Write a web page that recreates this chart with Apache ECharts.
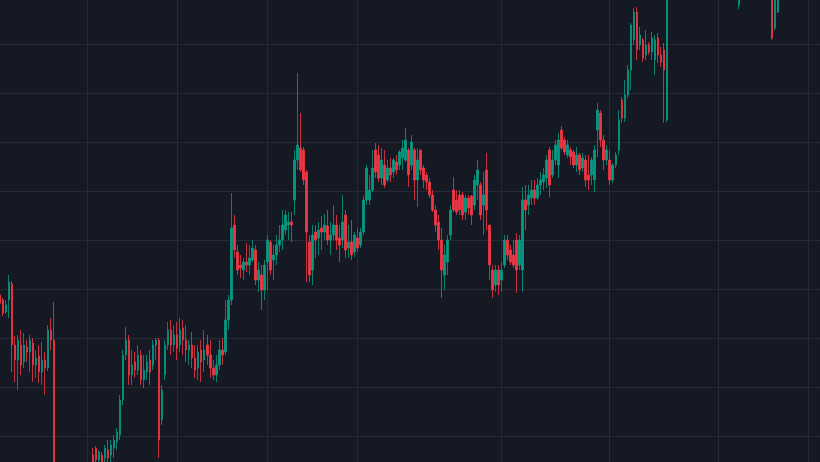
<!DOCTYPE html>
<html lang="en">
  <head>
    <meta charset="UTF-8">
    <title>Candles</title>
    <style>
      html, body { margin: 0; padding: 0; background: #151924; overflow: hidden; width: 820px; height: 462px; }
      #main { position: absolute; left: 0; top: -5px; width: 820px; height: 490px; }
    </style>
  </head>
  <body>
    <div id="main"></div>
  </body>
  <script src="https://cdn.jsdelivr.net/npm/echarts@6/dist/echarts.min.js"></script>
  <script type="text/javascript">
    // each bar: [open, close, low, high]
    var segA = [
      [167,159,156,170],[162,149,146,164],[150,157,148,162],[162,180,144,187],[178,117,90,181],
      [117,102,80,126],[102,122,72,127],[117,97,87,132],[100,117,94,129],[115,110,100,122],
      [110,122,90,127],[119,97,80,124],[97,104,84,112],[106,90,79,117],[90,102,77,120],
      [102,94,67,110],[94,132,91,137],[132,122,112,144],[122,-8,-38,160],
      [-10,-20,-35,-5],[-20,-15,-30,-8],[-15,-25,-40,-10],[-25,-30,-45,-15],[-30,-22,-40,-18],
      [-22,-28,-38,-12],[-28,-35,-50,-20],[-35,-25,-42,-20],[-25,-18,-30,-10],[-18,-22,-32,-8],
      [-22,-12,-28,-6],[-12,-5,-18,-4]
    ];
    var segB = [
      [7,-3,-8,14],[14,2,-6,16],[2,10,-8,12],[7,0,-6,10],[4,14,0,17],[12,4,-4,22],[7,17,0,22],
      [14,22,4,27],[20,30,12,34],[27,62,22,67],[62,107,57,112],[107,122,102,135],[122,87,77,127],
      [87,97,77,112],[100,92,84,110],[92,107,87,117],[107,82,77,112],[82,92,74,107],[90,100,82,107],
      [102,90,77,112],[97,117,92,122],[117,122,102,124],[122,22,4,124],[42,72,37,77],[87,117,82,122],
      [117,132,112,140],[132,117,107,142],[117,127,110,137],[127,114,102,140],[117,132,110,144],
      [134,122,107,142],[122,112,100,137],[112,117,97,122],[117,104,94,130],[104,92,84,117],
      [94,110,82,117],[112,100,80,122],[102,112,90,132],[117,107,97,127],[107,94,84,122],
      [94,87,82,102],[87,97,80,107],[97,112,92,122],[112,107,97,124],[110,142,107,162],[142,162,132,167]
    ];
    var segC = [
      [162,234,157,269],[237,212,204,247],[210,192,187,217],[197,194,184,207],[192,200,182,204],
      [200,197,190,219],[197,204,187,217],[202,214,200,222],[212,182,177,217],[182,192,170,200],
      [187,172,152,197],[172,197,162,202],[200,222,172,227],[220,192,187,222],[202,207,182,217],
      [207,217,197,227],[217,222,210,237],[222,237,212,252],[232,247,227,252],[237,240,222,250],
      [240,237,220,250],[262,302,247,312],[302,317,292,389],[314,292,290,349],[312,282,277,315],
      [290,230,180,292],[220,187,180,227],[192,227,177,237],[230,222,204,237],[224,232,207,240],
      [234,230,212,246],[230,237,222,248],[236,222,217,252],[222,227,207,240],[227,237,222,257],
      [237,222,212,247],[224,217,200,237],[222,240,214,267],[247,212,204,252],[214,220,204,237],
      [220,207,202,242],[210,227,205,230],[224,214,210,234],[217,230,214,234],[230,262,227,266],
      [262,294,257,297]
    ];
    var segD = [
      [262,272,257,287],[272,294,270,312],[312,290,284,319],[307,284,280,317],[284,302,277,314],
      [297,277,274,312],[282,294,280,302],[294,287,280,304],[290,302,284,304],[300,292,287,307],
      [297,310,292,312],[304,314,292,322],[302,322,300,334],[312,287,275,314],[297,320,292,327],
      [312,282,262,314],[282,302,255,314],[312,292,287,312],[294,282,274,297],[287,280,272,290],
      [280,267,264,284],[267,252,250,272],[252,237,230,257],[240,222,212,247],[222,192,164,234],
      [187,207,172,217],[200,222,187,227],[227,252,222,257],[272,252,250,285],[262,250,247,272],
      [267,252,247,272],[267,247,242,270],[250,264,242,267],[264,254,247,267],[266,247,237,267],
      [257,282,252,287],[277,292,262,302],[277,247,242,280],[257,267,227,290],[292,252,232,309],
      [237,197,182,237],[192,172,164,197],[177,192,170,197],[192,177,167,197],[182,192,170,200],
      [197,222,194,227],[222,207,202,227],[212,200,197,217],[207,197,194,222],[222,192,169,229],
      [197,222,192,227],[192,262,170,275],[262,252,232,277]
    ];
    var segE = [
      [257,267,247,277],[264,272,257,282],[272,264,257,282],[264,277,262,284],[277,282,267,290],
      [280,287,272,294],[284,302,274,307],[312,277,265,315],[287,302,284,312],[302,317,297,322],
      [297,322,284,329],[332,314,312,336],[322,310,307,325],[307,317,304,322],[312,305,297,315],
      [310,297,294,312],[297,307,290,315],[307,292,287,309],[294,304,290,309],[302,282,275,307],
      [287,282,272,307],[287,302,277,305],[282,312,270,317],[332,352,305,359],[349,322,315,352],
      [322,302,292,327],[302,312,297,317],[302,282,277,312],[282,297,279,299],[297,307,294,310],
      [312,342,307,352],[362,344,339,365],[344,367,340,382],[367,392,364,397],[392,437,372,439],
      [422,450,417,454],[450,412,402,455],[417,427,412,435],[422,404,400,424],[407,417,402,432],
      [417,410,407,420],[410,424,402,430],[402,422,387,427],[424,407,399,429],[407,400,395,415],
      [412,392,339,419],[342,482,340,502]
    ];
    var segF = [
      [482,495,475,505],[495,505,488,515],[505,498,490,512],[498,510,492,518],[510,520,502,528],
      [520,512,505,526],[512,500,495,518],[500,490,484,506],[490,498,482,504],[498,510,492,516],
      [510,505,498,518],[505,495,488,512],[495,485,478,500],[485,492,480,498],[492,484,478,498],
      [484,490,478,496],[490,485,478,495],[485,480,474,492],[480,488,476,494],[488,482,475,494],
      [482,478,472,490],[478,484,472,490],[484,476,471,490],[457,472,453,480],[472,485,468,492],
      [485,495,478,500],[495,502,488,510],[502,495,490,508],[495,488,482,500],[488,494,482,500],
      [494,486,480,500],[486,490,480,496],[490,482,476,496],[482,488,476,494],[482,424,422,492],
      [434,467,432,477],[450,472,449,482],[472,480,468,486],[480,490,474,496],[490,485,480,498],
      [485,495,478,500],[495,505,490,512],[505,498,492,512],[498,508,494,514],[508,515,502,522],
      [515,510,504,520],[510,518,505,525],[518,525,512,532],[525,520,514,530],[520,528,515,535],
      [528,535,522,540]
    ];
    // bar indices where the vertical grid lines fall
    var gridBars = [29, 59, 89, 119, 167, 203, 239, 269];

    var bars = segA.concat(segB, segC, segD, segE, segF);
    var categories = bars.map(function (b, i) { return 'd' + i; });

    // the chart box is taller than the window so the price grid lines land where they should
    var myChart = echarts.init(document.getElementById('main'));
    var option = {
      backgroundColor: '#151924',
      animation: false,
      grid: { left: 0, right: 0, top: 0, bottom: 0 },
      xAxis: {
        type: 'category',
        data: categories,
        boundaryGap: false,
        axisLine: { show: false },
        axisTick: { show: false },
        axisLabel: { show: false },
        splitLine: {
          show: true,
          interval: function (idx) { return gridBars.indexOf(idx) >= 0; },
          lineStyle: { color: '#262a35', width: 1 }
        }
      },
      yAxis: {
        type: 'value',
        min: -23,
        max: 467,
        interval: 49,
        axisLine: { show: false },
        axisTick: { show: false },
        axisLabel: { show: false },
        splitLine: { lineStyle: { color: '#262a35', width: 1 } }
      },
      series: [{
        type: 'candlestick',
        data: bars,
        barWidth: 2,
        clip: true,
        itemStyle: {
          color: '#089981',
          color0: '#f23645',
          borderColor: '#089981',
          borderColor0: '#f23645',
          borderWidth: 0.8
        }
      }]
    };
    myChart.setOption(option);
  </script>
</html>
